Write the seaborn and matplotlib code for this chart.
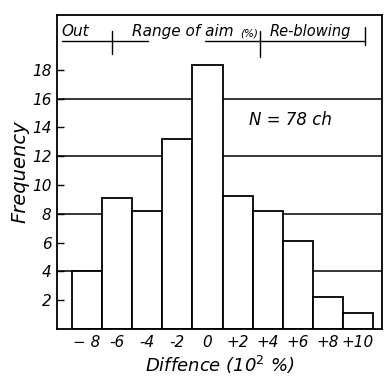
import matplotlib
matplotlib.use("Agg")
import matplotlib.pyplot as plt
import seaborn as sns
import pandas as pd

# ---- data ----
categories = ["− 8", "-6", "-4", "-2", "0", "+2", "+4", "+6", "+8", "+10"]
frequency = [4.0, 9.1, 8.2, 13.2, 18.3, 9.2, 8.2, 6.1, 2.2, 1.1]
y_ticks = [2, 4, 6, 8, 10, 12, 14, 16, 18]
grid_levels = [4, 8, 12, 16]
n_label = "N = 78 ch"

sns.set_theme(style="white")
plt.rcParams["font.family"] = ["DejaVu Sans"]
plt.rcParams["text.color"] = "black"
plt.rcParams["axes.labelcolor"] = "black"
plt.rcParams["xtick.color"] = "black"
plt.rcParams["ytick.color"] = "black"

df = pd.DataFrame({"diff": categories, "freq": frequency})

fig = plt.figure(figsize=(3.84, 3.80), dpi=100)
fig.patch.set_facecolor("white")
ax = fig.add_axes([57 / 384, 1 - 329 / 380, 325 / 384, 314 / 380])
ax.set_facecolor("white")

for g in grid_levels:
    ax.axhline(g, color="black", lw=1.1, zorder=0.5)

sns.barplot(data=df, x="diff", y="freq", order=categories, width=1.0,
            color="white", edgecolor="black", linewidth=1.3, ax=ax, zorder=2)

ax.set_xlim(-1.0, 9.8)
ax.set_ylim(0, 21.8)

ax.set_yticks(y_ticks)
ax.set_yticklabels([str(v) for v in y_ticks], fontstyle="italic", fontsize=11)
ax.tick_params(axis="y", direction="in", length=5, width=1, color="black",
               pad=4, left=True, labelcolor="black")
ax.tick_params(axis="x", length=0, pad=4, labelsize=11, labelcolor="black")
for t in ax.get_xticklabels():
    t.set_fontstyle("italic")

for s in ax.spines.values():
    s.set_visible(True)
    s.set_color("black")
    s.set_linewidth(1.3)

ax.set_xlabel("Diffence (10$^2$ %)", fontstyle="italic", fontsize=13,
              labelpad=3, color="black")
ax.set_ylabel("Frequency", fontstyle="italic", fontsize=14, labelpad=2,
              color="black")

# header: Out | Range of aim (%) | Re-blowing
tr = ax.transAxes
kw = dict(color="black", lw=1.0, transform=tr, clip_on=False)
ax.plot([0.015, 0.28], [0.917, 0.917], **kw)
ax.plot([0.455, 0.948], [0.917, 0.917], **kw)
ax.plot([0.169, 0.169], [0.876, 0.949], **kw)
ax.plot([0.625, 0.625], [0.866, 0.949], **kw)
ax.plot([0.948, 0.948], [0.904, 0.962], **kw)
ax.text(0.015, 0.922, "Out", transform=tr, fontstyle="italic", fontsize=11,
        ha="left", va="bottom", color="black")
ax.text(0.231, 0.922, "Range of aim", transform=tr, fontstyle="italic",
        fontsize=11, ha="left", va="bottom", color="black")
ax.text(0.565, 0.925, "(%)", transform=tr, fontstyle="italic",
        fontsize=7.5, ha="left", va="bottom", color="black")
ax.text(0.655, 0.922, "Re-blowing", transform=tr, fontstyle="italic",
        fontsize=10.5, ha="left", va="bottom", color="black")

ax.text(0.717, 0.666, n_label, transform=tr, fontstyle="italic", fontsize=12,
        ha="center", va="center", color="black")

fig.savefig("out.png", dpi=100, facecolor="white")
